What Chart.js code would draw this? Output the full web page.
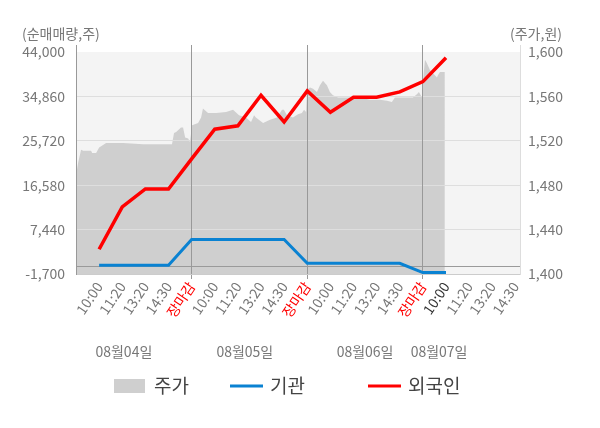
<!DOCTYPE html>
<html><head><meta charset="utf-8">
<script src="https://cdn.jsdelivr.net/npm/chart.js@4.4.1/dist/chart.umd.min.js"></script>
<style>html,body{margin:0;padding:0;background:#fff;}</style>
</head><body>
<canvas id="c" width="600" height="428"></canvas>
<script>
// ---- data ----
const tickLabels = ['10:00','11:20','13:20','14:30','장마감','10:00','11:20','13:20','14:30','장마감','10:00','11:20','13:20','14:30','장마감','10:00','11:20','13:20','14:30'];
const flowK = [0,1,2,3,4,5,6,7,8,9,10,11,12,13,14,15];
const foreignNet = [3400,12100,15800,15800,22000,28100,28800,35100,29600,36000,31600,34700,34700,35800,37900,42800];
const institutionNet = [100,100,100,100,5400,5400,5400,5400,5400,500,500,500,500,500,-1400,-1400];
const priceK = [-0.99,-0.91,-0.78,-0.69,-0.35,-0.30,-0.13,0.00,0.22,0.30,1.04,1.90,2.33,3.03,3.15,3.24,3.33,3.54,3.63,3.72,3.85,3.93,4.02,4.28,4.41,4.49,4.71,5.06,5.49,5.79,6.05,6.35,6.57,6.70,6.78,7.09,7.39,7.69,7.91,7.99,8.12,8.38,8.60,8.77,8.86,8.95,8.99,9.12,9.25,9.42,9.55,9.68,9.85,9.98,10.11,10.33,10.72,11.28,11.71,12.14,12.45,12.66,12.79,13.31,13.57,13.74,13.83,13.96,14.00,14.09,14.17,14.30,14.43,14.61,14.65,14.74,14.95];
const prices = [1490,1500,1512,1511,1511,1509,1509,1514,1517,1518,1518,1517,1517,1517,1517,1527,1528,1532,1532,1523,1522,1519,1534,1536,1541,1549,1545,1545,1546,1548,1543,1541,1537,1543,1541,1536,1539,1541,1548,1548,1543,1541,1544,1545,1548,1546,1566,1568,1567,1564,1570,1574,1570,1564,1561,1559,1559,1559,1557,1557,1556,1555,1559,1559,1559,1562,1564,1559,1573,1593,1590,1584,1581,1577,1579,1582,1582];
const leftTicks = [-1700,7440,16580,25720,34860,44000];
const rightTicks = [1400,1440,1480,1520,1560,1600];
const dayLabels = ['08월04일','08월05일','08월06일','08월07일'];
const dayLabelK = [1.07,6.3,11.5,14.7];
const dayEndK = [4,9,14];
const currentK = 15;
const seriesNames = ['주가','기관','외국인'];
const seriesColors = ['#cfcfcf','#0a82d2','#ff0000'];

// ---- layout helpers ----
const topExtra = 7/222;
const leftMax = 44000 + (44000 - (-1700)) * topExtra;
const rightMax = 1600 + (1600 - 1400) * topExtra;
const FONT = "'Noto Sans CJK KR','Noto Sans',sans-serif";
Chart.defaults.font.family = FONT;
Chart.defaults.font.size = 14;

const fmt = v => Number(v).toLocaleString('en-US');

const overlayGrid = {
  id: 'overlayGrid',
  beforeDraw(chart) {
    const {ctx, chartArea, scales} = chart;
    const top = scales.y.getPixelForValue(44000);
    ctx.save();
    ctx.fillStyle = '#f4f4f4';
    ctx.fillRect(chartArea.left, top, chartArea.right - chartArea.left, chartArea.bottom - top);
    ctx.restore();
  },
  afterDatasetDraw(chart, args) {
    if (args.index !== 0) return;
    const {ctx, chartArea, scales} = chart;
    scales.y.drawGrid(chartArea);
    const zy = scales.y.getPixelForValue(0);
    ctx.save();
    ctx.strokeStyle = '#9a9a9a';
    ctx.lineWidth = 1;
    ctx.beginPath();
    ctx.moveTo(chartArea.left, Math.round(zy) + 0.5);
    ctx.lineTo(chartArea.right, Math.round(zy) + 0.5);
    ctx.stroke();
    ctx.restore();
    scales.x.drawGrid(chartArea);
    scales.y.drawBorder && scales.y.drawBorder();
  }
};

const extras = {
  id: 'extras',
  afterDraw(chart) {
    const {ctx, scales} = chart;
    ctx.save();
    // axis titles
    ctx.fillStyle = '#777';
    ctx.font = '14px ' + FONT;
    ctx.textBaseline = 'middle';
    ctx.textAlign = 'left';
    ctx.fillText('(순매매량,주)', 22, 34);
    ctx.textAlign = 'right';
    ctx.fillText('(주가,원)', 562, 34);
    // day labels
    ctx.textAlign = 'center';
    dayLabels.forEach((t, i) => {
      ctx.fillText(t, scales.x.getPixelForValue(dayLabelK[i]), 352);
    });
    // legend
    const lx = [114, 230, 368];
    const ly = 386;
    ctx.font = '19px ' + FONT;
    ctx.textAlign = 'left';
    seriesNames.forEach((name, i) => {
      ctx.fillStyle = seriesColors[i];
      if (i === 0) ctx.fillRect(lx[i], ly - 7, 31, 14);
      else ctx.fillRect(lx[i], ly - 1.5, 33, 3);
      ctx.fillStyle = '#444';
      ctx.fillText(name, lx[i] + 40, ly);
    });
    ctx.restore();
  }
};

new Chart(document.getElementById('c'), {
  type: 'line',
  data: {
    datasets: [
      {
        label: seriesNames[0],
        data: priceK.map((k, i) => ({x: k, y: prices[i]})),
        yAxisID: 'y1',
        fill: 'start',
        backgroundColor: seriesColors[0],
        borderWidth: 0,
        pointRadius: 0,
        tension: 0,
        order: 3
      },
      {
        label: seriesNames[1],
        data: flowK.map((k, i) => ({x: k, y: institutionNet[i]})),
        yAxisID: 'y',
        borderColor: seriesColors[1],
        borderWidth: 3,
        pointRadius: 0,
        fill: false,
        order: 2
      },
      {
        label: seriesNames[2],
        data: flowK.map((k, i) => ({x: k, y: foreignNet[i]})),
        yAxisID: 'y',
        borderColor: seriesColors[2],
        borderWidth: 3.5,
        pointRadius: 0,
        fill: false,
        order: 1
      }
    ]
  },
  options: {
    responsive: false,
    animation: false,
    devicePixelRatio: 1,
    layout: {padding: {top: 45, left: 0, right: 0, bottom: 0}},
    plugins: {legend: {display: false}, tooltip: {enabled: false}},
    scales: {
      x: {
        type: 'linear',
        min: -1,
        max: 18.2,
        afterBuildTicks: s => { s.ticks = tickLabels.map((_, i) => ({value: i})); },
        afterFit: s => { s.height = 154; },
        ticks: {
          autoSkip: false,
          minRotation: 56,
          maxRotation: 56,
          padding: 0,
          font: {size: 14},
          color: ctx => {
            const v = ctx.tick ? ctx.tick.value : -1;
            if (tickLabels[v] === '장마감') return '#ff0000';
            if (v === currentK) return '#333';
            return '#777';
          },
          callback: (v, i) => tickLabels[i]
        },
        grid: {
          color: ctx => (ctx.tick && dayEndK.includes(ctx.tick.value)) ? '#999' : 'rgba(0,0,0,0)',
          tickLength: 5
        },
        border: {color: '#cccccc'}
      },
      y: {
        type: 'linear',
        position: 'left',
        min: -1700,
        max: leftMax,
        afterBuildTicks: s => { s.ticks = leftTicks.map(v => ({value: v})); },
        afterFit: s => { s.width = 76; },
        ticks: {autoSkip: false, padding: 11, color: '#777', callback: v => fmt(v)},
        grid: {
          color: ctx => (ctx.tick && (ctx.tick.value === 44000 || ctx.tick.value === -1700)) ? 'rgba(0,0,0,0)' : '#dedede',
          drawTicks: false
        },
        border: {color: '#999'}
      },
      y1: {
        type: 'linear',
        position: 'right',
        min: 1400,
        max: rightMax,
        afterBuildTicks: s => { s.ticks = rightTicks.map(v => ({value: v})); },
        afterFit: s => { s.width = 80; },
        ticks: {autoSkip: false, padding: 8, color: '#777', callback: v => fmt(v)},
        grid: {drawOnChartArea: false, drawTicks: false},
        border: {color: '#dddddd'}
      }
    }
  },
  plugins: [overlayGrid, extras]
});
</script>
</body></html>
